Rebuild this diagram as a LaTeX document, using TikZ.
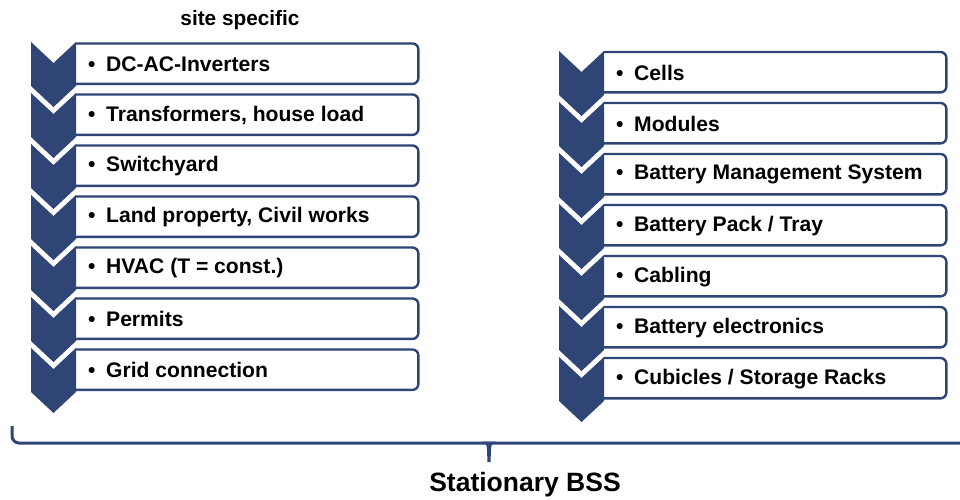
\documentclass[tikz,border=0pt]{standalone}
\usepackage{fontspec}
\setmainfont{Liberation Sans}
\definecolor{navy}{RGB}{46,69,117}
\begin{document}
\begin{tikzpicture}[x=1pt,y=-1pt,
  chev/.style={fill=navy},
  slot/.style={rectangle, minimum width=342pt, minimum height=40pt, inner sep=0pt, anchor=north west},
  rim/.style={draw=navy, line width=2.4pt, fill=white, rounded corners=6pt},
  itemtext/.style={anchor=west, inner sep=0pt, font=\fontsize{21.1}{23}\selectfont\bfseries},
  heading/.style={inner sep=0pt, font=\fontsize{20.8}{23}\selectfont\bfseries},
  caption/.style={inner sep=0pt, font=\fontsize{26.5}{30}\selectfont\bfseries},
  bracket/.style={draw=navy, line width=3pt, rounded corners=7pt}
]
\useasboundingbox (0,0) rectangle (960,500);

% chevron: left x, top y
\newcommand\chevshape[2]{%
  \fill[chev] (#1,#2) -- (#1+22.5,#2+21) -- (#1+45,#2) -- (#1+45,#2+44)
    -- (#1+22.5,#2+65) -- (#1,#2+44) -- cycle;}

% left column
\foreach \i/\txt [evaluate=\i as \bt using 43.5+51*\i,
                  evaluate=\i as \ct using 42+51*\i] in
  {0/DC-AC-Inverters, 1/{Transformers, house load}, 2/Switchyard,
   3/{Land property, Civil works}, 4/{HVAC (T = const.)}, 5/Permits,
   6/Grid connection} {
  \node[slot] (L\i) at (76,\bt) {};
  \draw[rim] (L\i.north west) -- (L\i.north east) -- (L\i.south east) -- (L\i.south west);
  \chevshape{31}{\ct}
  \node[itemtext] (Lt\i) at ([xshift=12pt,yshift=-0.5pt]L\i.west) {\makebox[18pt][l]{•}\txt};
}

% right column
\foreach \i/\txt [evaluate=\i as \bt using 52+51*\i,
                  evaluate=\i as \ct using 51+51*\i] in
  {0/Cells, 1/Modules, 2/{Battery Management System}, 3/{Battery Pack / Tray},
   4/Cabling, 5/{Battery electronics}, 6/{Cubicles / Storage Racks}} {
  \node[slot] (R\i) at (604,\bt) {};
  \draw[rim] (R\i.north west) -- (R\i.north east) -- (R\i.south east) -- (R\i.south west);
  \chevshape{559}{\ct}
  \node[itemtext] (Rt\i) at ([xshift=12pt,yshift=-0.5pt]R\i.west) {\makebox[18pt][l]{•}\txt};
}

\node[heading] (site) at (240,20) {site specific};

% bracket spanning both columns
\coordinate (bl) at (12,426);
\coordinate (bc) at (12,443);
\coordinate (br) at (975,443);
\draw[bracket] (bl) -- (bc) -- (br);
\coordinate (tick) at (489,443);
\fill[navy] ([xshift=-7pt,yshift=1.5pt]tick)
  -- ([xshift=7pt,yshift=1.5pt]tick)
  .. controls ([xshift=2.5pt]tick) and ([xshift=2pt,yshift=-3pt]tick) .. ([xshift=2pt,yshift=-7pt]tick)
  -- ([xshift=1.5pt,yshift=-19pt]tick) -- ([xshift=-1.5pt,yshift=-19pt]tick)
  -- ([xshift=-2pt,yshift=-7pt]tick)
  .. controls ([xshift=-2pt,yshift=-3pt]tick) and ([xshift=-2.5pt]tick) .. cycle;

\node[caption] (bss) at (525,485) {Stationary BSS};
\end{tikzpicture}
\end{document}
